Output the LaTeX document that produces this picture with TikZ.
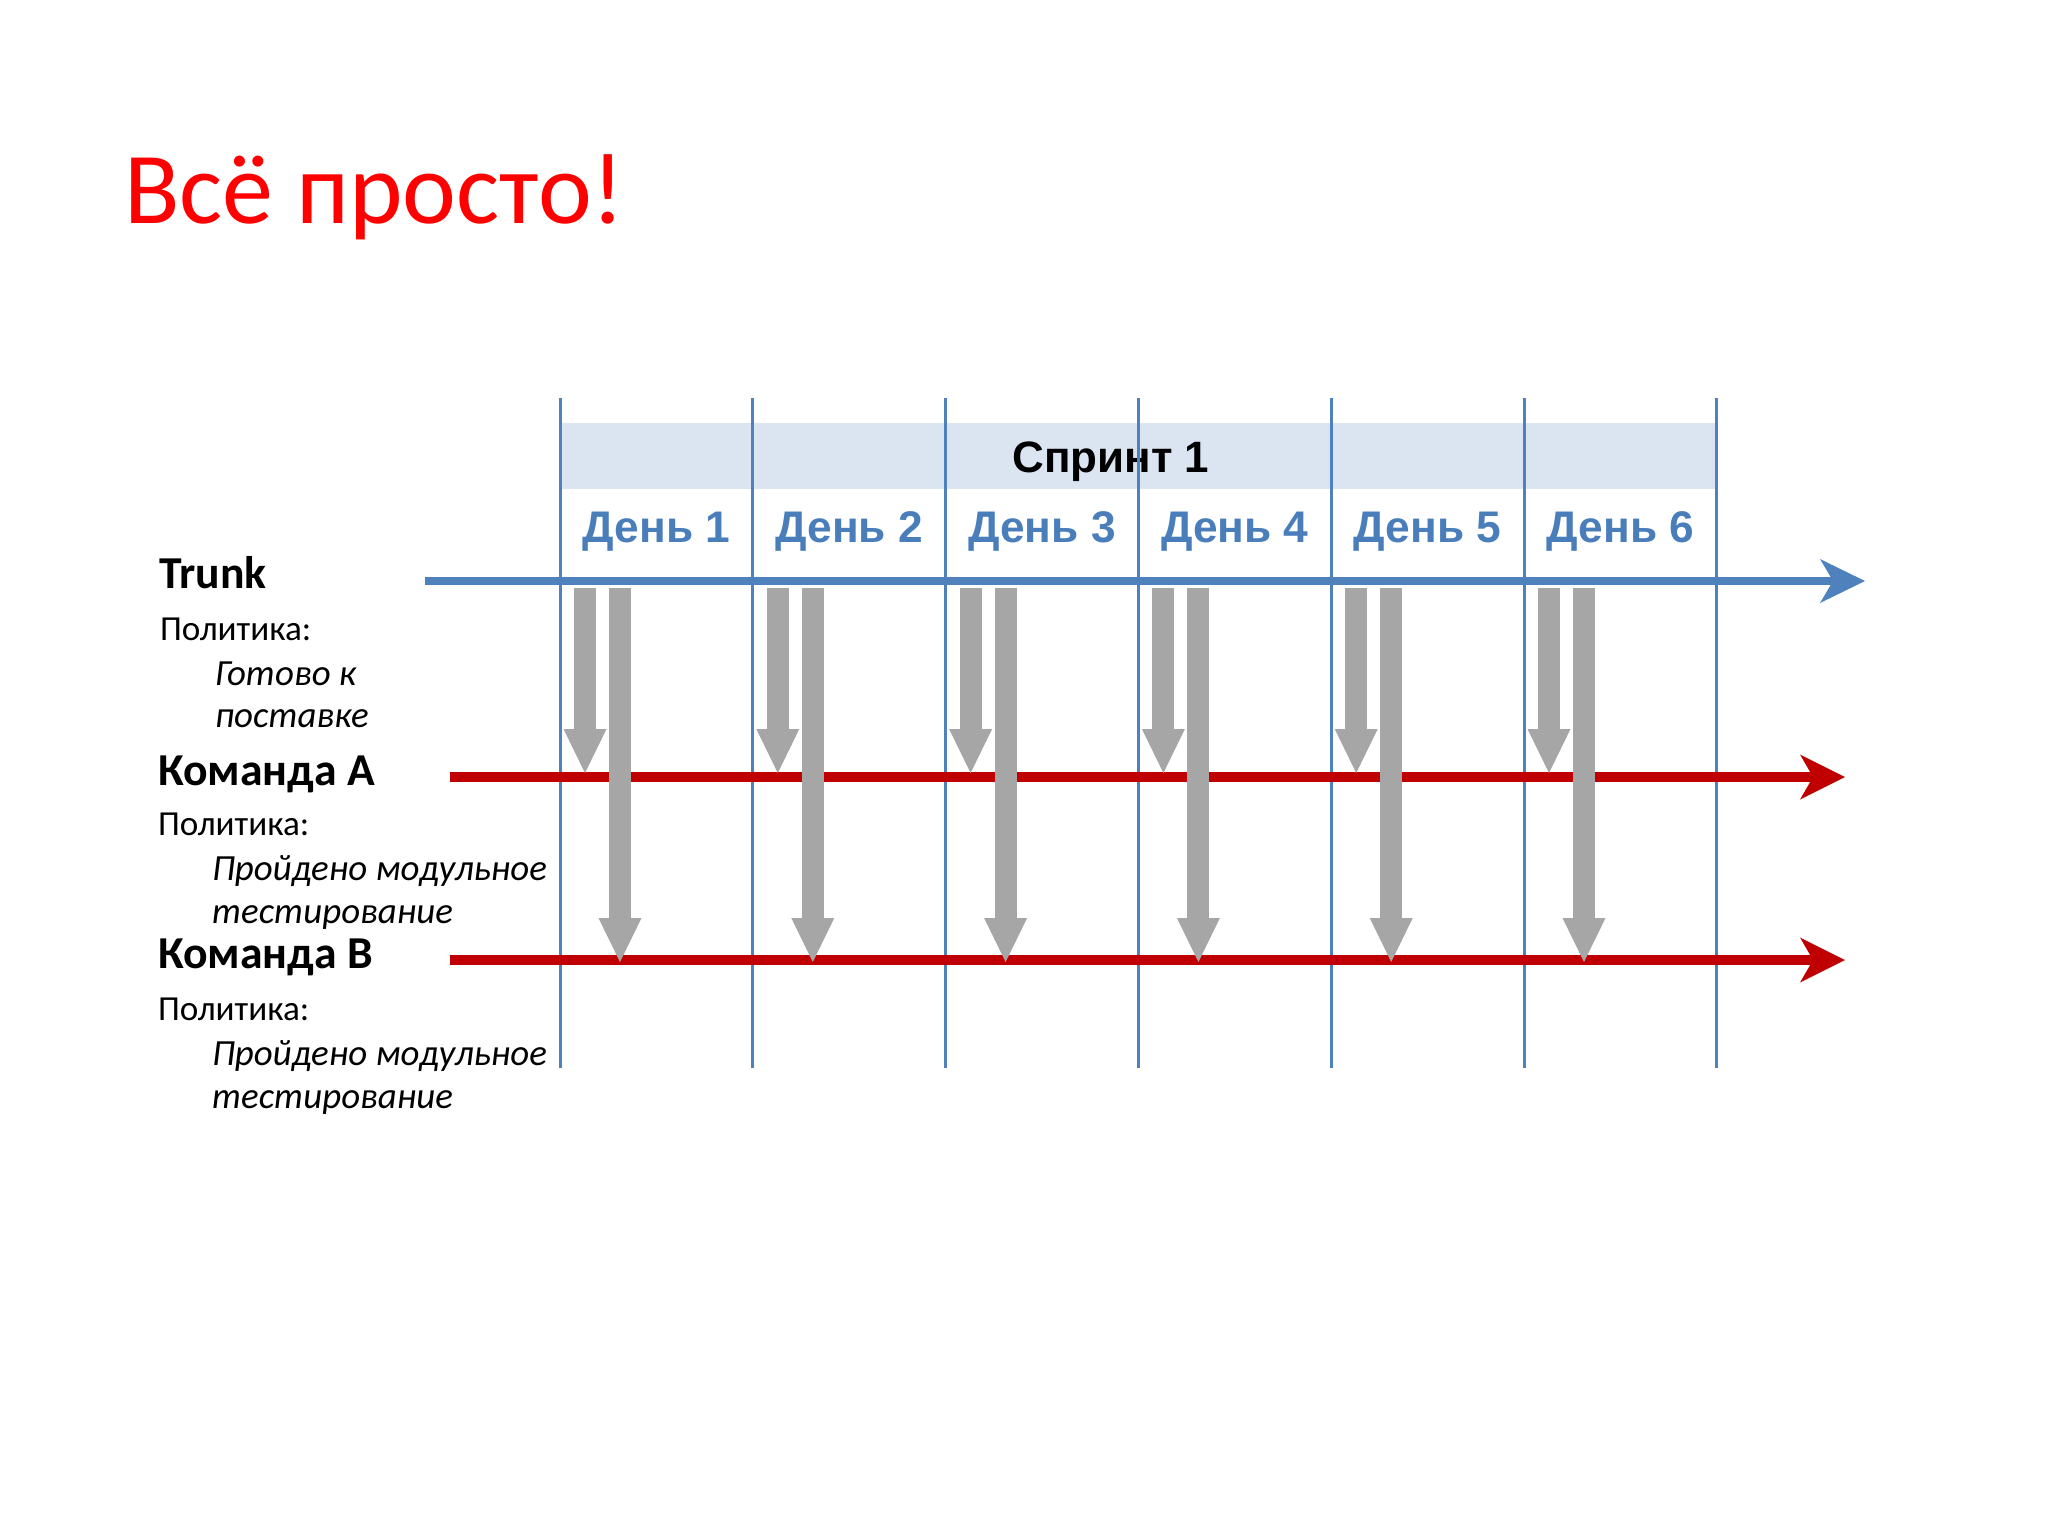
\documentclass[tikz,border=0pt]{standalone}
\usepackage{fontspec}
\setmainfont{Carlito}
\newfontfamily\arialfont{Liberation Sans}
\usetikzlibrary{arrows.meta}
\definecolor{titlered}{RGB}{255,0,0}
\definecolor{lineblue}{RGB}{79,129,189}
\definecolor{dayblue}{RGB}{74,126,187}
\definecolor{teamred}{RGB}{192,0,0}
\definecolor{mergegray}{RGB}{166,166,166}
\definecolor{bandblue}{RGB}{219,229,242}
\tikzset{%
    every node/.style={inner sep=0pt, outer sep=0pt},
    teamlabel/.style={anchor=base west, font=\fontsize{13}{15}\selectfont\bfseries},
    policy/.style={anchor=base west, font=\fontsize{10}{12}\selectfont},
    rulelabel/.style={anchor=base west, font=\fontsize{10.5}{12}\selectfont\itshape},
    daylabel/.style={anchor=base, text=dayblue,
    	font=\arialfont\fontsize{12.6}{15}\selectfont\bfseries},
    dayline/.style={draw=lineblue, line width=0.3mm},
    trunkline/.style={draw=lineblue, line width=0.85mm,
    	-{Stealth[length=4.5mm, width=4.4mm, inset=1.3mm, line width=0pt]}},
    teamline/.style={draw=teamred, line width=0.95mm,
    	-{Stealth[length=4.5mm, width=4.5mm, inset=1.3mm, line width=0pt]}},
    mergearrow/.style={draw=mergegray, line width=2.2mm,
    	-{Triangle[length=4.4mm, width=4.3mm, line width=0pt]}}
}

\begin{document}
\begin{tikzpicture}[x=0.1mm, y=-0.1mm]
	\useasboundingbox (0,0) rectangle (2048,1536);
	\node [anchor=base west, text=titlered, font=\fontsize{29}{34}\selectfont]
		(title) at (124,223) {Всё просто!};
	% sprint band
	\fill [bandblue] (560,423) rectangle (1717,489);
	\node [anchor=base, font=\arialfont\fontsize{12.5}{15}\selectfont\bfseries]
		(sprint) at (1111,472) {Спринт 1};
	\foreach \i in {0,...,6} {
		\coordinate (top\i) at ({560+192.8*\i},398);
		\coordinate (bot\i) at ({560+192.8*\i},1068);
		\draw [dayline] (top\i) -- (bot\i);
	}
	\foreach \i in {1,...,6} {
		\node [daylabel] (day\i) at ({463.6+192.8*\i},542) {День \i};
	}
	% branches
	\coordinate (trunkL) at (425,581);
	\coordinate (trunkR) at (1865,581);
	\coordinate (teamAL) at (450,777);
	\coordinate (teamAR) at (1845,777);
	\coordinate (teamBL) at (450,960);
	\coordinate (teamBR) at (1845,960);
	\draw [trunkline] (trunkL) -- (trunkR);
	\draw [teamline] (teamAL) -- (teamAR);
	\draw [teamline] (teamBL) -- (teamBR);
	% merges
	\foreach \i in {0,...,5} {
		\coordinate (srcA\i) at ({585+192.8*\i},588);
		\coordinate (dstA\i) at ({585+192.8*\i},773);
		\coordinate (srcB\i) at ({620+192.8*\i},588);
		\coordinate (dstB\i) at ({620+192.8*\i},962);
		\draw [mergearrow] (srcA\i) -- (dstA\i);
		\draw [mergearrow] (srcB\i) -- (dstB\i);
	}
	% labels
	\node [teamlabel] (trunk) at (159,588) {Trunk};
	\node [policy] (pol0) at (160,640) {Политика:};
	\node [rulelabel] (rule0a) at (215,685) {Готово к};
	\node [rulelabel] (rule0b) at (215,727) {поставке};
	\node [teamlabel] (teamA) at (158,785) {Команда A};
	\node [policy] (pol1) at (158,835) {Политика:};
	\node [rulelabel] (rule1a) at (212,880) {Пройдено модульное};
	\node [rulelabel] (rule1b) at (212,923) {тестирование};
	\node [teamlabel] (teamB) at (158,968) {Команда B};
	\node [policy] (pol2) at (158,1020) {Политика:};
	\node [rulelabel] (rule2a) at (212,1065) {Пройдено модульное};
	\node [rulelabel] (rule2b) at (212,1108) {тестирование};
\end{tikzpicture}
\end{document}
